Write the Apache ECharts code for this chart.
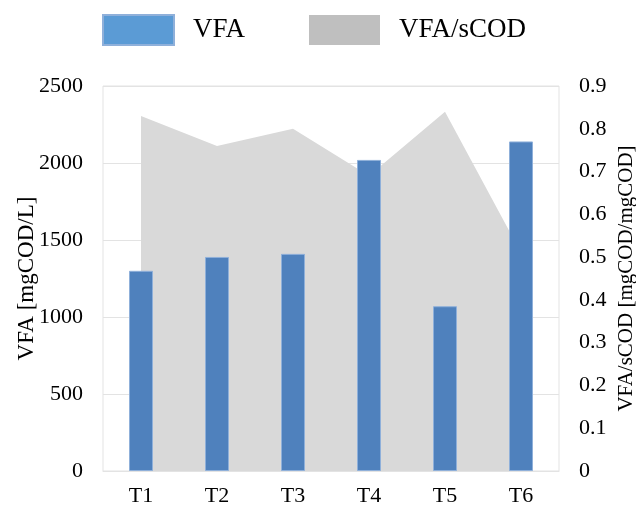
<!DOCTYPE html>
<html>
<head>
<meta charset="utf-8">
<script src="https://cdn.jsdelivr.net/npm/echarts@6/dist/echarts.min.js"></script>
<style>
  html, body { margin: 0; padding: 0; background: #fff; }
  #chart { width: 636px; height: 507px; }
</style>
</head>
<body>
<div id="chart"></div>
<script>
// 数据
const categories = ['T1', 'T2', 'T3', 'T4', 'T5', 'T6']
const vfaValues = [1300, 1390, 1410, 2020, 1070, 2140]
const ratioValues = [0.83, 0.76, 0.80, 0.69, 0.84, 0.51]
const seriesNames = ['VFA', 'VFA/sCOD']

const fontFamily = '"Liberation Serif", "Times New Roman", serif'
const myChart = echarts.init(document.getElementById('chart'))

const option = {
    animation: false,
    textStyle: { fontFamily: fontFamily },
    legend: {
        left: 97,
        top: 9,
        itemWidth: 71,
        itemHeight: 30,
        itemGap: 64,
        icon: 'rect',
        textStyle: { fontSize: 27, color: '#000', fontFamily: fontFamily, padding: [0, 0, 0, 14] },
        data: [
            { name: seriesNames[0], itemStyle: { color: '#5b9bd5' } },
            { name: seriesNames[1], itemStyle: { color: '#bfbfbf' } }
        ]
    },
    grid: {
        left: 103,
        right: 77,
        top: 86,
        bottom: 36,
        outerBoundsMode: 'none',
        containLabel: false,
        show: true,
        borderColor: '#e3e3e3',
        borderWidth: 1
    },
    xAxis: {
        type: 'category',
        data: categories,
        boundaryGap: true,
        axisTick: { show: false },
        axisLine: { lineStyle: { color: '#e3e3e3' } },
        axisLabel: { color: '#000', fontSize: 22, margin: 14, fontFamily: fontFamily }
    },
    yAxis: [
        {
            type: 'value',
            min: 0,
            max: 2500,
            interval: 500,
            name: 'VFA [mgCOD/L]',
            nameLocation: 'middle',
            nameGap: 65,
            nameMoveOverlap: false,
            nameTextStyle: { color: '#000', fontSize: 23, fontFamily: fontFamily },
            axisLine: { show: false },
            axisTick: { show: false },
            axisLabel: {
                color: '#000', fontSize: 22, margin: 20, fontFamily: fontFamily,
                formatter: function (v) { return String(v) }
            },
            splitLine: { lineStyle: { color: '#e3e3e3' } }
        },
        {
            type: 'value',
            min: 0,
            max: 0.9,
            interval: 0.1,
            name: 'VFA/sCOD [mgCOD/mgCOD]',
            nameLocation: 'middle',
            nameGap: 57,
            nameMoveOverlap: false,
            nameTextStyle: { color: '#000', fontSize: 21, fontFamily: fontFamily },
            axisLine: { show: false },
            axisTick: { show: false },
            axisLabel: {
                color: '#000', fontSize: 22, margin: 20, fontFamily: fontFamily,
                formatter: function (v) { return v === 0 ? '0' : v.toFixed(1) }
            },
            splitLine: { show: false }
        }
    ],
    series: [
        {
            name: seriesNames[0],
            type: 'bar',
            data: vfaValues,
            barWidth: 24,
            z: 3,
            itemStyle: { color: '#4f81bd', borderColor: '#8fb0da', borderWidth: 1 }
        },
        {
            name: seriesNames[1],
            type: 'line',
            yAxisIndex: 1,
            data: ratioValues,
            symbol: 'none',
            z: 1,
            lineStyle: { width: 0, color: '#d9d9d9' },
            itemStyle: { color: '#d9d9d9' },
            areaStyle: { color: '#d9d9d9', opacity: 1 }
        }
    ]
}
myChart.setOption(option)
</script>
</body>
</html>
